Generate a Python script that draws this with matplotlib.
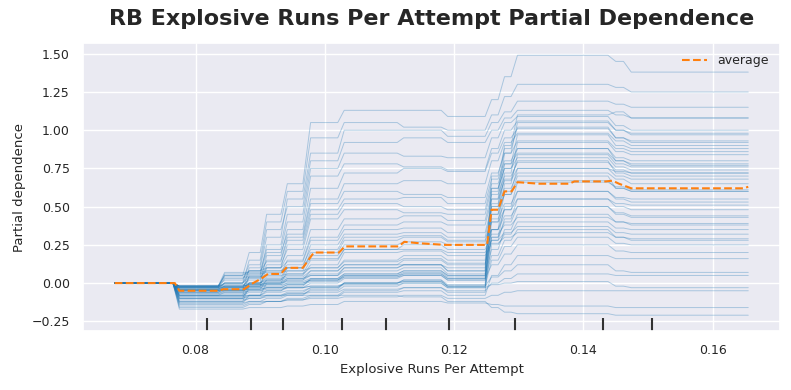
"""
RB Explosive Runs Per Attempt 的部分依赖图（ICE + 平均曲线）
"""

import matplotlib
matplotlib.use("Agg")
import matplotlib.pyplot as plt
import matplotlib.transforms as mtransforms
import seaborn as sns

# ==========================================
# 数据：每条 ICE 曲线在各平台区间上的取值
# ==========================================
# 平台区间 (起点, 终点)，区间之间用直线相连
seg_x = [
    (0.0675, 0.0765), (0.0775, 0.0835), (0.0845, 0.0873), (0.0883, 0.0900),
    (0.0910, 0.0932), (0.0942, 0.0966), (0.0978, 0.1020), (0.1030, 0.1112),
    (0.1122, 0.1180), (0.1190, 0.1248), (0.1258, 0.1268), (0.1278, 0.1288),
    (0.1298, 0.1438), (0.1450, 0.1462), (0.1474, 0.1655),
]

# 第一个区间全部为 0（centered ICE），这里只列后面 14 个区间
ice_high = [
    [-0.02, 0.05, 0.20, 0.45, 0.65, 1.05, 1.13, 1.13, 1.09, 1.20, 1.35, 1.49, 1.45, 1.38],
    [-0.03, 0.00, 0.15, 0.40, 0.60, 0.95, 1.05, 1.02, 1.00, 1.10, 1.22, 1.30, 1.28, 1.25],
    [-0.05, -0.05, 0.10, 0.30, 0.55, 0.85, 1.00, 1.00, 0.96, 1.05, 1.12, 1.19, 1.17, 1.15],
    [-0.02, 0.02, 0.12, 0.35, 0.50, 0.80, 0.92, 0.95, 0.92, 1.00, 1.08, 1.13, 1.10, 1.08],
    [-0.08, -0.08, 0.05, 0.25, 0.45, 0.75, 0.85, 0.83, 0.82, 0.95, 1.05, 1.09, 1.03, 1.00],
    [-0.04, 0.00, 0.08, 0.22, 0.40, 0.70, 0.78, 0.76, 0.74, 0.88, 1.00, 1.06, 1.00, 0.97],
    [-0.10, -0.10, 0.00, 0.18, 0.35, 0.62, 0.72, 0.75, 0.73, 0.85, 0.95, 1.01, 0.95, 0.92],
    [-0.02, 0.00, 0.06, 0.20, 0.32, 0.55, 0.65, 0.67, 0.65, 0.80, 0.92, 0.98, 0.93, 0.90],
    [-0.06, -0.03, 0.04, 0.15, 0.30, 0.52, 0.60, 0.58, 0.56, 0.72, 0.85, 0.93, 0.88, 0.86],
    [-0.03, 0.03, 0.08, 0.14, 0.28, 0.48, 0.55, 0.56, 0.52, 0.68, 0.80, 0.88, 0.82, 0.80],
    [-0.12, -0.12, -0.02, 0.10, 0.25, 0.45, 0.52, 0.50, 0.48, 0.65, 0.78, 0.85, 0.80, 0.77],
    [-0.05, -0.02, 0.02, 0.12, 0.22, 0.42, 0.48, 0.46, 0.45, 0.62, 0.75, 0.82, 0.76, 0.74],
]

ice_mid = [
    [-0.04, -0.02, 0.03, 0.10, 0.18, 0.35, 0.42, 0.44, 0.41, 0.58, 0.70, 0.79, 0.74, 0.72],
    [-0.07, -0.05, 0.00, 0.06, 0.15, 0.30, 0.38, 0.40, 0.38, 0.55, 0.67, 0.75, 0.70, 0.68],
    [-0.02, 0.05, 0.08, 0.10, 0.14, 0.28, 0.35, 0.36, 0.33, 0.50, 0.62, 0.72, 0.68, 0.65],
    [-0.09, -0.09, -0.04, 0.02, 0.10, 0.25, 0.32, 0.33, 0.30, 0.48, 0.58, 0.67, 0.62, 0.60],
    [-0.03, 0.00, 0.04, 0.08, 0.12, 0.22, 0.30, 0.31, 0.28, 0.42, 0.52, 0.60, 0.56, 0.55],
    [-0.13, -0.13, -0.08, 0.00, 0.08, 0.20, 0.28, 0.30, 0.27, 0.40, 0.48, 0.55, 0.52, 0.51],
    [-0.05, -0.03, 0.00, 0.04, 0.10, 0.18, 0.25, 0.27, 0.25, 0.35, 0.44, 0.50, 0.45, 0.43],
    [-0.02, 0.07, 0.07, 0.08, 0.10, 0.16, 0.22, 0.25, 0.22, 0.32, 0.38, 0.43, 0.40, 0.39],
    [-0.08, -0.06, -0.02, 0.02, 0.06, 0.15, 0.22, 0.22, 0.20, 0.28, 0.33, 0.37, 0.33, 0.32],
    [-0.04, -0.04, 0.00, 0.03, 0.05, 0.12, 0.20, 0.21, 0.18, 0.26, 0.30, 0.33, 0.30, 0.29],
]

ice_low = [
    [-0.02, -0.02, -0.01, 0.00, 0.02, 0.05, 0.10, 0.12, 0.10, 0.60, 0.90, 1.10, 1.12, 1.08],
    [-0.05, -0.05, -0.03, -0.01, 0.02, 0.08, 0.12, 0.12, 0.08, 0.55, 0.85, 1.05, 1.00, 0.98],
    [-0.10, -0.10, -0.08, -0.05, -0.02, 0.03, 0.06, 0.08, 0.05, 0.70, 0.88, 1.02, 0.95, 0.93],
    [-0.02, 0.04, 0.04, 0.05, 0.06, 0.10, 0.15, 0.18, 0.15, 0.50, 0.78, 0.97, 0.90, 0.88],
    [-0.14, -0.14, -0.12, -0.10, -0.08, -0.04, 0.00, 0.02, -0.02, 0.45, 0.72, 0.92, 0.86, 0.84],
    [-0.03, -0.03, -0.02, 0.00, 0.03, 0.06, 0.10, 0.12, 0.08, 0.62, 0.75, 0.88, 0.80, 0.78],
    [-0.06, -0.04, -0.03, -0.02, 0.00, 0.02, 0.05, 0.07, 0.04, 0.40, 0.65, 0.84, 0.78, 0.76],
    [-0.08, -0.08, -0.06, -0.05, -0.03, 0.00, 0.03, 0.05, 0.02, 0.52, 0.68, 0.80, 0.72, 0.70],
    [-0.02, -0.01, 0.00, 0.02, 0.04, 0.08, 0.12, 0.15, 0.12, 0.35, 0.60, 0.75, 0.73, 0.72],
    [-0.11, -0.11, -0.10, -0.08, -0.06, -0.03, 0.00, 0.02, -0.01, 0.45, 0.58, 0.70, 0.62, 0.60],
    [-0.04, -0.02, -0.01, 0.01, 0.03, 0.05, 0.08, 0.10, 0.06, 0.30, 0.50, 0.66, 0.63, 0.61],
    [-0.16, -0.16, -0.14, -0.12, -0.10, -0.08, -0.05, -0.03, -0.06, 0.35, 0.48, 0.60, 0.55, 0.53],
    [-0.03, 0.06, 0.06, 0.07, 0.08, 0.10, 0.14, 0.16, 0.13, 0.28, 0.42, 0.55, 0.50, 0.48],
    [-0.07, -0.07, -0.05, -0.03, -0.01, 0.02, 0.05, 0.06, 0.03, 0.30, 0.40, 0.50, 0.46, 0.44],
    [-0.02, -0.02, -0.01, 0.00, 0.01, 0.03, 0.06, 0.08, 0.05, 0.22, 0.35, 0.45, 0.40, 0.38],
    [-0.12, -0.12, -0.10, -0.09, -0.07, -0.05, -0.02, 0.00, -0.03, 0.25, 0.32, 0.40, 0.36, 0.35],
    [-0.05, -0.05, -0.04, -0.03, -0.01, 0.01, 0.04, 0.05, 0.02, 0.18, 0.28, 0.35, 0.30, 0.28],
    [-0.09, -0.09, -0.08, -0.06, -0.05, -0.03, 0.00, 0.01, -0.02, 0.15, 0.24, 0.30, 0.26, 0.25],
    [-0.03, -0.03, -0.02, -0.01, 0.00, 0.02, 0.04, 0.06, 0.03, 0.12, 0.19, 0.25, 0.21, 0.20],
    [-0.15, -0.15, -0.13, -0.12, -0.11, -0.09, -0.06, -0.05, -0.08, 0.05, 0.12, 0.18, 0.16, 0.16],
    [-0.06, -0.06, -0.05, -0.04, -0.03, -0.02, 0.00, 0.01, -0.02, 0.04, 0.08, 0.12, 0.08, 0.07],
    [-0.10, -0.10, -0.09, -0.08, -0.07, -0.06, -0.04, -0.03, -0.05, 0.00, 0.03, 0.06, 0.05, 0.05],
    [-0.04, -0.04, -0.04, -0.03, -0.03, -0.02, -0.01, 0.00, -0.03, -0.01, 0.00, 0.01, -0.02, -0.03],
    [-0.13, -0.13, -0.12, -0.12, -0.11, -0.10, -0.09, -0.08, -0.10, -0.08, -0.06, -0.05, -0.05, -0.05],
    [-0.17, -0.17, -0.16, -0.16, -0.15, -0.14, -0.12, -0.12, -0.13, -0.14, -0.15, -0.15, -0.16, -0.16],
    [-0.08, -0.08, -0.08, -0.08, -0.08, -0.08, -0.08, -0.09, -0.12, -0.16, -0.19, -0.20, -0.21, -0.21],
]

# 平均部分依赖曲线
avg_x = [0.0675, 0.0768, 0.0775, 0.0835, 0.0843, 0.0875, 0.0889, 0.0902, 0.0912,
         0.0932, 0.0940, 0.0966, 0.0983, 0.1022, 0.1031, 0.1114, 0.1123, 0.1148,
         0.1186, 0.1251, 0.1258, 0.1268, 0.1278, 0.1289, 0.1298, 0.1332, 0.1378,
         0.1386, 0.1435, 0.1445, 0.1455, 0.1474, 0.1648, 0.1655]
avg_y = [0.00, 0.00, -0.05, -0.05, -0.04, -0.04, 0.00, 0.03, 0.06,
         0.06, 0.10, 0.10, 0.20, 0.20, 0.24, 0.24, 0.27, 0.26,
         0.25, 0.25, 0.48, 0.48, 0.60, 0.60, 0.66, 0.65, 0.65,
         0.665, 0.665, 0.67, 0.65, 0.62, 0.62, 0.63]

# 十分位数刻度
deciles = [0.0817, 0.0886, 0.0935, 0.1026, 0.1094, 0.1192, 0.1294, 0.1431, 0.1506]

# ==========================================
# 绘图
# ==========================================
sns.set_theme(style="darkgrid")
plt.rcParams['font.family'] = ['DejaVu Sans']

fig, ax = plt.subplots(figsize=(7.91, 3.90), dpi=100)
fig.subplots_adjust(left=0.105, right=0.986, top=0.890, bottom=0.151)

# 折线的 x：每个平台区间的起点和终点
line_x = [x for pair in seg_x for x in pair]

for curve in ice_high + ice_mid + ice_low:
    levels = [0.0] + curve
    line_y = [v for v in levels for _ in range(2)]
    ax.plot(line_x, line_y, color='tab:blue', alpha=0.32, linewidth=0.7)

ax.plot(avg_x, avg_y, color='tab:orange', linestyle='--', linewidth=1.5, label='average')

# 十分位数短竖线
trans = mtransforms.blended_transform_factory(ax.transData, ax.transAxes)
ax.vlines(deciles, 0, 0.045, transform=trans, color='#333333', linewidth=1.5)

ax.set_ylim(-0.314, 1.571)
ax.set_xlabel('Explosive Runs Per Attempt', fontsize=9.5)
ax.set_ylabel('Partial dependence', fontsize=9.5)
ax.tick_params(labelsize=9)
ax.legend(loc='upper right', frameon=False, fontsize=9)

ax.set_title('RB Explosive Runs Per Attempt Partial Dependence',
             fontsize=16, fontweight='bold', pad=13)

plt.savefig('out.png', dpi=100)
